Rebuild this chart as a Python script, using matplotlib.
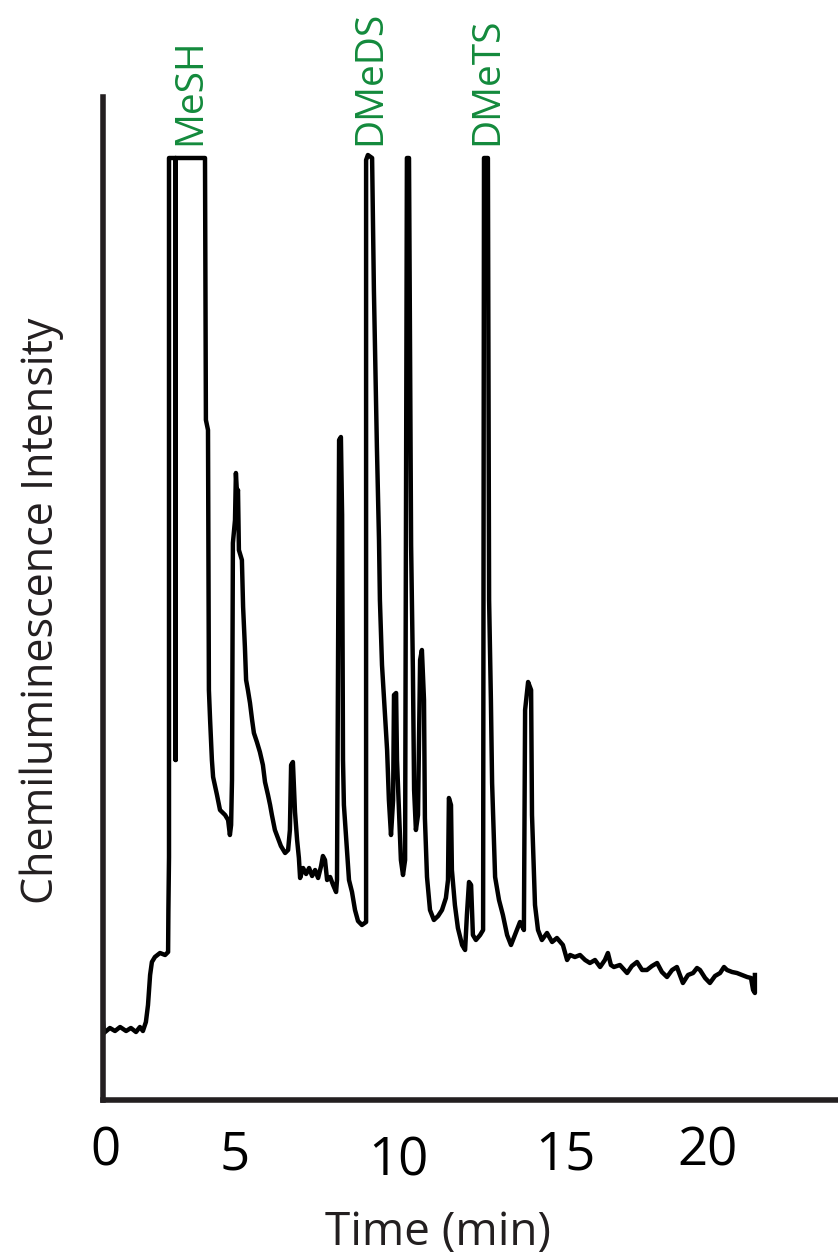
import matplotlib.pyplot as plt
from matplotlib import transforms

plt.rcParams['font.family'] = ['Open Sans', 'DejaVu Sans']

# retention time (min) and detector response (arbitrary units)
time_min = [
    0.00, 0.03, 0.23, 0.40, 0.57, 0.77, 0.93, 1.10, 1.23, 1.33,
    1.43, 1.50, 1.57, 1.63, 1.73, 1.90, 2.07, 2.17, 2.18, 2.20,
    2.20, 2.42, 2.42, 2.42, 2.42, 3.40, 3.43, 3.50, 3.53, 3.57,
    3.63, 3.67, 3.80, 3.90, 4.07, 4.17, 4.23, 4.27, 4.30, 4.33,
    4.40, 4.43, 4.47, 4.50, 4.53, 4.63, 4.67, 4.73, 4.77, 4.83,
    4.90, 4.97, 5.03, 5.13, 5.23, 5.33, 5.40, 5.50, 5.57, 5.63,
    5.73, 5.83, 5.93, 6.07, 6.17, 6.23, 6.27, 6.33, 6.37, 6.40,
    6.47, 6.53, 6.57, 6.67, 6.77, 6.87, 6.97, 7.07, 7.17, 7.27,
    7.33, 7.40, 7.47, 7.57, 7.67, 7.77, 7.80, 7.87, 7.93, 7.97,
    8.00, 8.03, 8.13, 8.20, 8.30, 8.40, 8.50, 8.63, 8.77, 8.77,
    8.83, 8.97, 9.03, 9.10, 9.13, 9.20, 9.23, 9.30, 9.40, 9.47,
    9.53, 9.60, 9.67, 9.70, 9.77, 9.80, 9.87, 9.93, 10.00, 10.07,
    10.13, 10.20, 10.27, 10.33, 10.37, 10.43, 10.50, 10.57, 10.63, 10.70,
    10.73, 10.80, 10.90, 11.03, 11.17, 11.30, 11.43, 11.50, 11.53, 11.60,
    11.63, 11.73, 11.83, 11.97, 12.07, 12.13, 12.20, 12.27, 12.33, 12.43,
    12.57, 12.67, 12.70, 12.83, 12.87, 12.93, 12.97, 13.07, 13.20, 13.33,
    13.47, 13.60, 13.73, 13.90, 14.03, 14.07, 14.17, 14.27, 14.30, 14.40,
    14.50, 14.63, 14.80, 14.97, 15.13, 15.33, 15.47, 15.57, 15.73, 15.90,
    16.07, 16.23, 16.40, 16.57, 16.73, 16.83, 16.93, 17.03, 17.23, 17.47,
    17.63, 17.80, 17.97, 18.13, 18.30, 18.47, 18.63, 18.80, 18.97, 19.13,
    19.23, 19.33, 19.50, 19.67, 19.80, 19.90, 20.07, 20.23, 20.40, 20.57,
    20.70, 20.80, 20.97, 21.13, 21.30, 21.47, 21.60, 21.67, 21.73, 21.73,
]
signal = [
    78, 67, 72, 69, 73, 69, 72, 68, 73, 69,
    78, 95, 125, 138, 143, 147, 145, 148, 190, 243,
    942, 942, 340, 340, 942, 942, 680, 670, 410, 380,
    340, 323, 305, 290, 285, 280, 265, 275, 320, 557,
    580, 627, 605, 610, 550, 540, 493, 453, 420, 410,
    397, 380, 367, 358, 348, 335, 318, 305, 295, 285,
    270, 262, 254, 247, 250, 270, 335, 338, 310, 288,
    260, 242, 222, 232, 226, 232, 224, 230, 222, 234,
    244, 240, 220, 223, 215, 208, 220, 660, 663, 585,
    340, 295, 250, 220, 208, 190, 179, 175, 178, 940,
    945, 942, 810, 700, 653, 560, 500, 435, 385, 350,
    300, 265, 300, 405, 407, 340, 285, 240, 225, 240,
    942, 942, 555, 430, 310, 270, 285, 440, 450, 400,
    282, 223, 190, 180, 184, 190, 202, 220, 302, 295,
    230, 195, 172, 155, 150, 185, 218, 215, 165, 160,
    165, 170, 942, 942, 500, 400, 317, 223, 200, 185,
    165, 155, 165, 178, 170, 390, 418, 410, 285, 195,
    170, 160, 167, 158, 162, 155, 140, 145, 143, 145,
    140, 137, 140, 133, 140, 147, 135, 133, 135, 127,
    134, 138, 130, 130, 134, 137, 128, 123, 130, 133,
    125, 117, 125, 127, 132, 130, 122, 117, 124, 127,
    133, 130, 128, 127, 125, 123, 122, 110, 107, 125,
]

peak_names = ['MeSH', 'DMeDS', 'DMeTS']
peak_label_time = [3.23, 9.23, 13.13]

tick_values = [0, 5, 10, 15, 20]
tick_labels = ['0', '5', '10', '15', '20']
# hand-placed tick numbers: pixel nudges (right, down) from the tick position
tick_dx = [2, -18, -5, 12, 4]
tick_dy = [65, 70, 75, 70, 66]

W, H = 838, 1257
fig = plt.figure(figsize=(W / 100, H / 100), dpi=100)
ax = fig.add_axes([103 / W, 157 / H, 1 - 103 / W, 1003 / H])

ax.plot(time_min, signal, color='black', lw=3.2)

ax.set_xlim(0, 24.5)
ax.set_ylim(0, 1003)
for side in ['top', 'right']:
    ax.spines[side].set_visible(False)
for side in ['left', 'bottom']:
    ax.spines[side].set_linewidth(4)
    ax.spines[side].set_color('#231f20')
    ax.spines[side].set_capstyle('projecting')
ax.set_xticks([])
ax.set_yticks([])

for val, lab, dx, dy in zip(tick_values, tick_labels, tick_dx, tick_dy):
    tr = transforms.offset_copy(ax.get_xaxis_transform(), fig=fig,
                                x=dx, y=-dy, units='dots')
    ax.text(val, 0, lab, transform=tr, ha='center', va='baseline',
            fontsize=38, color='black')

for name, t in zip(peak_names, peak_label_time):
    ax.text(t, 955, name, rotation=90, rotation_mode='anchor',
            ha='left', va='baseline', fontsize=28, color='#138a3c')

ax.set_xlabel('Time (min)', fontsize=33, color='#231f20')
ax.xaxis.label.set_va('baseline')
ax.xaxis.set_label_coords(335 / 735, -145 / 1003)

ax.set_ylabel('Chemiluminescence Intensity', fontsize=31, color='#231f20')
ax.yaxis.label.set_va('baseline')
ax.yaxis.set_label_coords(-50 / 735, 489 / 1003)

fig.savefig('out.png', dpi=100)
